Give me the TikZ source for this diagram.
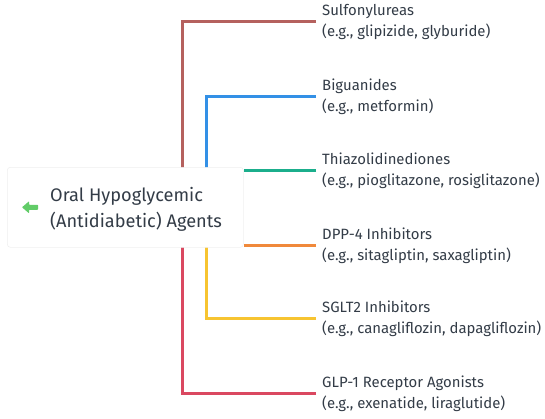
\documentclass[tikz,border=0pt]{standalone}
\usepackage{fontspec}
\setmainfont{Fira Sans}
\usetikzlibrary{calc}
\definecolor{txt}{HTML}{333C47}
\definecolor{cA}{HTML}{B5615E}
\definecolor{cB}{HTML}{3390E6}
\definecolor{cC}{HTML}{1BAE8C}
\definecolor{cD}{HTML}{F0893B}
\definecolor{cE}{HTML}{F7C431}
\definecolor{cF}{HTML}{DA4860}
\definecolor{arr}{HTML}{62CC68}
\tikzset{
  conn/.style={line width=3pt},
  lbl/.style={anchor=west, align=left, inner xsep=6pt, inner ysep=0pt, text=txt, font=\fontsize{14.9}{21}\selectfont},
  boxst/.style={draw=black!6, fill=white, rounded corners=3pt, line width=0.6pt, minimum width=236pt, minimum height=80pt, anchor=north west, inner sep=0pt},
  ttl/.style={anchor=west, align=left, inner sep=0pt, text=txt, font=\fontsize{18.2}{26}\selectfont}
}
\begin{document}
\begin{tikzpicture}[x=1pt,y=-1pt]
\useasboundingbox (0,0) rectangle (545,418);
% labels
\node[lbl] (sulf) at (316,22) {Sulfonylureas\\(e.g., glipizide, glyburide)};
\node[lbl] (bigu) at (316,97) {Biguanides\\(e.g., metformin)};
\node[lbl] (thia) at (316,171) {Thiazolidinediones\\(e.g., pioglitazone, rosiglitazone)};
\node[lbl] (dpp) at (316,246) {DPP-4 Inhibitors\\(e.g., sitagliptin, saxagliptin)};
\node[lbl] (sglt) at (316,319) {SGLT2 Inhibitors\\(e.g., canagliflozin, dapagliflozin)};
\node[lbl] (glp) at (316,394) {GLP-1 Receptor Agonists\\(e.g., exenatide, liraglutide)};
% connectors (drawn under the box)
\path (182,207) coordinate (xa) (206,207) coordinate (xb);
\draw[conn, cA] ($(sulf.west)+(0,-1)$) -| (xa);
\draw[conn, cB] ($(bigu.west)+(0,-1)$) -| (xb);
\draw[conn, cE] ($(sglt.west)+(0,-1)$) -| (xb);
\draw[conn, cF] ($(glp.west)+(0,-1)$) -| (xa);
% central box
\node[boxst] (root) at (7,167) {};
\draw[conn, cC] ($(thia.west)+(0,-1)$) -- ($(thia.west -| root.east)+(0,-1)$);
\draw[conn, cD] ($(dpp.west)+(0,-1)$) -- ($(dpp.west -| root.east)+(0,-1)$);
\node[ttl] (title) at ($(root.west)+(43,2)$) {Oral Hypoglycemic\\(Antidiabetic) Agents};
% small arrow icon
\fill[arr, rounded corners=0.6pt] ($(root.west)+(15,0)$) -- ++(7,-6) -- ++(0,3.5) -- ++(9,0) -- ++(0,5) -- ++(-9,0) -- ++(0,3.5) -- cycle;
\end{tikzpicture}
\end{document}
